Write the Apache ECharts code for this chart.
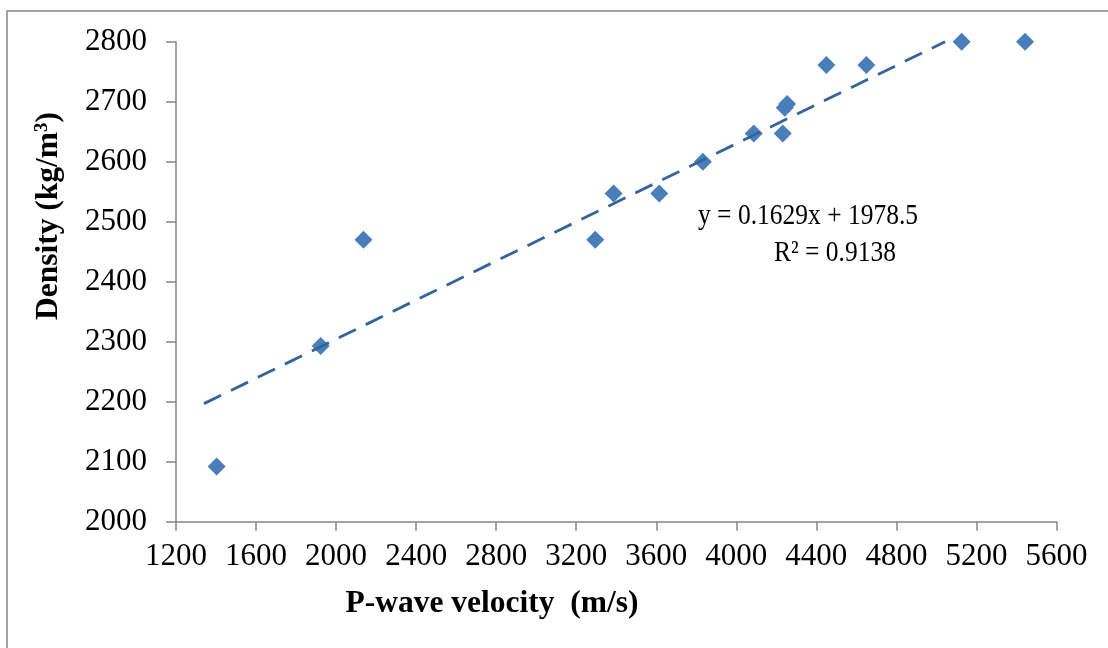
<!DOCTYPE html>
<html>
<head>
<meta charset="utf-8">
<script src="https://cdn.jsdelivr.net/npm/echarts@6/dist/echarts.min.js"></script>
<style>
  html, body { margin: 0; padding: 0; background: #ffffff; }
  #chart { width: 1108px; height: 648px; }
</style>
</head>
<body>
<div id="chart"></div>
<script>
// Measured samples: P-wave velocity (m/s) against density (kg/m3)
const velocity = [1403, 1923, 2137, 3295, 3387, 3615, 3833, 4087, 4232, 4242, 4254, 4450, 4650, 5126, 5443];
const density  = [2092, 2293, 2470, 2470, 2547, 2547, 2600, 2647, 2647, 2690, 2696, 2761, 2761, 2800, 2800];

// Axis scales
const xRange = [1200, 5600];
const xStep = 400;
const yRange = [2000, 2800];
const yStep = 100;

// Linear trendline y = a*x + b and the span it is drawn over
const trendSlope = 0.1629;
const trendIntercept = 1978.5;
const trendSpan = [1340, 5043];
const trendLabel = 'y = 0.1629x + 1978.5';
const r2Label = 'R² = 0.9138';

const serif = "'Liberation Serif', 'Times New Roman', 'DejaVu Serif', serif";
const axisGray = '#878787';

const points = velocity.map((v, i) => [v, density[i]]);
const trend = trendSpan.map(x => [x, trendSlope * x + trendIntercept]);

const chart = echarts.init(document.getElementById('chart'), null, { renderer: 'canvas' });

chart.setOption({
  backgroundColor: '#ffffff',
  animation: false,
  grid: { left: 176, right: 51.5, top: 41.7, bottom: 126.3, containLabel: false },
  xAxis: {
    type: 'value',
    min: xRange[0], max: xRange[1], interval: xStep,
    axisLine: { show: true, lineStyle: { color: axisGray, width: 1.5 } },
    axisTick: { show: true, inside: false, length: 9, lineStyle: { color: axisGray, width: 1.5 } },
    axisLabel: { color: '#000', fontFamily: serif, fontSize: 31, margin: 20, formatter: v => String(v) },
    splitLine: { show: false }
  },
  yAxis: {
    type: 'value',
    min: yRange[0], max: yRange[1], interval: yStep,
    axisLine: { show: true, lineStyle: { color: axisGray, width: 1.5 } },
    axisTick: { show: true, inside: false, length: 10, lineStyle: { color: axisGray, width: 1.5 } },
    axisLabel: { color: '#000', fontFamily: serif, fontSize: 31, margin: 29, formatter: v => String(v) },
    splitLine: { show: false }
  },
  series: [
    {
      type: 'scatter',
      data: points,
      symbol: 'diamond',
      symbolSize: 18,
      itemStyle: { color: '#4A7EBB', opacity: 1 },
      z: 2
    },
    {
      type: 'line',
      data: trend,
      symbol: 'none',
      silent: true,
      lineStyle: { color: '#34649E', width: 2.8, type: [19, 11], cap: 'butt' },
      z: 3
    }
  ],
  graphic: [
    {
      type: 'rect',
      shape: { x: 7, y: 11, width: 1130, height: 680 },
      style: { fill: 'none', stroke: axisGray, lineWidth: 1.5 },
      silent: true,
      z: -1
    },
    {
      type: 'text',
      x: 49, y: 216,
      rotation: Math.PI / 2,
      style: {
        text: '{m|Density (kg/m}{s|3}{m|)}',
        align: 'center', verticalAlign: 'middle',
        fill: '#000',
        rich: {
          m: { fontFamily: serif, fontSize: 31.5, fontWeight: 'bold', lineHeight: 32 },
          s: { fontFamily: serif, fontSize: 19, fontWeight: 'bold', lineHeight: 19, verticalAlign: 'top' }
        }
      }
    },
    {
      type: 'text',
      x: 492, y: 604,
      style: {
        text: 'P-wave velocity  (m/s)',
        align: 'center', verticalAlign: 'middle',
        fill: '#000',
        font: 'bold 31.5px ' + serif
      }
    },
    {
      type: 'text',
      x: 808, y: 216,
      scaleX: 0.85,
      style: {
        text: trendLabel,
        align: 'center', verticalAlign: 'middle',
        fill: '#000',
        font: '30px ' + serif
      }
    },
    {
      type: 'text',
      x: 835, y: 253,
      scaleX: 0.85,
      style: {
        text: r2Label,
        align: 'center', verticalAlign: 'middle',
        fill: '#000',
        font: '30px ' + serif
      }
    }
  ]
});
</script>
</body>
</html>
